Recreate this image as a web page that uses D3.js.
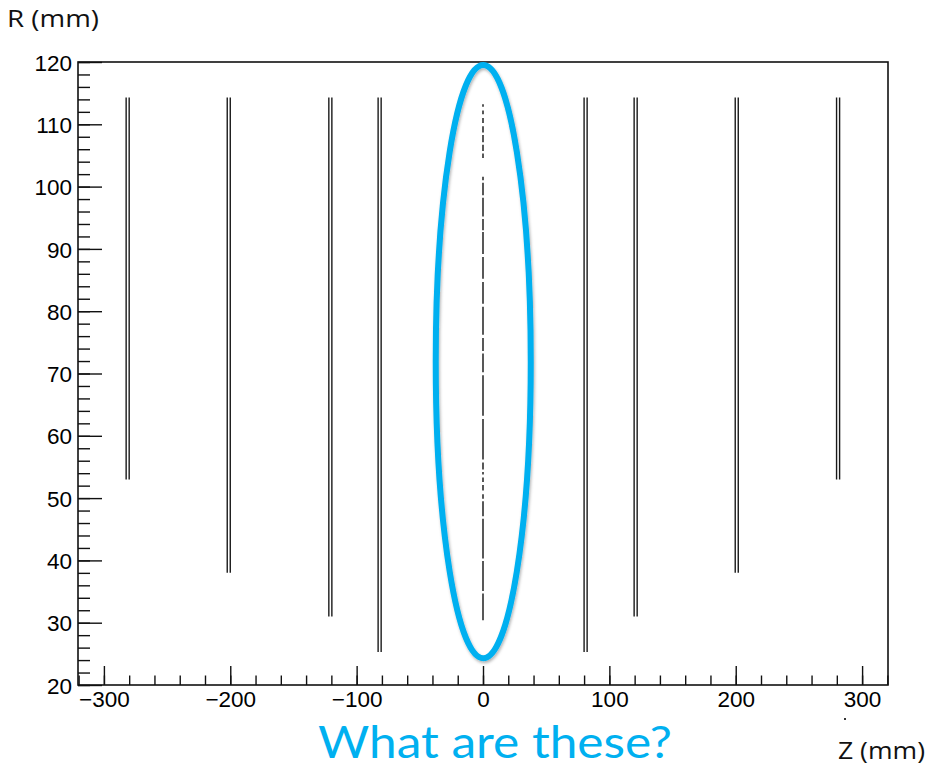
<!DOCTYPE html>
<html>
<head>
<meta charset="utf-8">
<script src="https://cdn.jsdelivr.net/npm/d3@7"></script>
<style>
  body { margin: 0; background: #fff; }
  svg { display: block; }
</style>
</head>
<body>
<svg id="chart"></svg>
<script>
// layer positions (Z, mm) - each layer drawn as a close pair of lines
const layerZ = [
    [-282.4, -280.0], [-202.4, -200.0], [-122.0, -119.6], [-83.0, -80.6],
    [80.0, 82.4], [119.6, 122.0], [199.6, 202.0], [279.8, 282.2]
];
const layerRmin = [53.0, 38.0, 31.0, 25.3, 25.3, 31.0, 38.0, 53.0];
const layerRmax = [114.3, 114.3, 114.3, 114.3, 114.3, 114.3, 114.3, 114.3];

// broken hits along Z = 0, [Rlow, Rhigh]
const centerSegs = [
    [112.8, 113.2], [111.6, 112.2], [110.2, 111.0], [108.7, 109.7], [107.1, 108.3],
    [105.7, 106.7], [104.6, 105.3], [101.0, 101.6], [98.6, 100.6], [95.2, 98.2],
    [93.0, 94.8], [89.2, 92.7], [85.2, 88.7], [81.2, 84.7], [76.2, 80.7],
    [73.6, 75.7], [70.2, 73.2], [63.2, 69.7], [56.2, 62.7], [54.6, 55.7],
    [53.8, 54.2], [52.6, 53.3], [51.2, 52.1], [49.9, 50.6], [47.1, 49.5],
    [40.3, 46.7], [35.1, 39.9], [30.4, 34.7]
];

// annotation ellipse in data units
const ringCenter = [0.2, 71.9];
const ringRadii = [37.6, 47.6];

const xMajor = [-300, -200, -100, 0, 100, 200, 300];
const yMajor = [20, 30, 40, 50, 60, 70, 80, 90, 100, 110, 120];

const width = 932;
const height = 768;
const margin = {top: 62, right: 44, bottom: 83, left: 78};

const svg = d3.select("#chart")
    .attr("width", width)
    .attr("height", height)
    .attr("viewBox", [0, 0, width, height]);

const x = d3.scaleLinear()
    .domain([-320.5, 320.5])
    .range([margin.left, width - margin.right]);

const y = d3.scaleLinear()
    .domain([20, 120])
    .range([height - margin.bottom, margin.top]);

const tickFont = "'Liberation Sans', Arial, sans-serif";

// minor ticks
svg.append("g")
    .attr("transform", `translate(0,${y(20)})`)
    .call(d3.axisBottom(x).tickValues(d3.range(-320, 321, 20)).tickSize(-9.5).tickSizeOuter(0).tickFormat(""))
    .call(g => g.select(".domain").remove());

svg.append("g")
    .attr("transform", `translate(${x.range()[0]},0)`)
    .call(d3.axisLeft(y).tickValues(d3.range(20, 121, 2)).tickSize(-12).tickSizeOuter(0).tickFormat(""))
    .call(g => g.select(".domain").remove());

// major ticks + labels
svg.append("g")
    .attr("transform", `translate(0,${y(20)})`)
    .call(d3.axisBottom(x).tickValues(xMajor).tickSize(-19).tickSizeOuter(0).tickPadding(6)
        .tickFormat(d => d < 0 ? "\u2212" + Math.abs(d) : d))
    .call(g => g.select(".domain").remove())
    .call(g => g.selectAll("text")
        .attr("dy", "0.72em")
        .style("font-family", tickFont)
        .style("font-size", "22.5px")
        .style("fill", "#000"));

svg.append("g")
    .attr("transform", `translate(${x.range()[0]},0)`)
    .call(d3.axisLeft(y).tickValues(yMajor).tickSize(-24).tickSizeOuter(0).tickPadding(6))
    .call(g => g.select(".domain").remove())
    .call(g => g.selectAll("text")
        .attr("dy", "0.36em")
        .style("font-family", tickFont)
        .style("font-size", "22.5px")
        .style("fill", "#000"));

svg.selectAll(".tick line").attr("stroke", "#111").attr("stroke-width", 1.4);

// frame
svg.append("rect")
    .attr("x", x.range()[0])
    .attr("y", y(120))
    .attr("width", x.range()[1] - x.range()[0])
    .attr("height", y(20) - y(120))
    .attr("fill", "none")
    .attr("stroke", "#111")
    .attr("stroke-width", 1.6);

// layer pairs
const layers = svg.append("g");
layerZ.forEach((pair, i) => {
    pair.forEach(z => {
        layers.append("line")
            .attr("x1", x(z)).attr("x2", x(z))
            .attr("y1", y(layerRmax[i])).attr("y2", y(layerRmin[i]))
            .attr("stroke", "#1a1a1a")
            .attr("stroke-width", 1.4);
    });
});

// hits along Z = 0
svg.append("g")
    .selectAll("line")
    .data(centerSegs)
    .join("line")
    .attr("x1", x(0)).attr("x2", x(0))
    .attr("y1", d => y(d[1])).attr("y2", d => y(d[0]))
    .attr("stroke", "#111")
    .attr("stroke-width", 1.4);

// stray dot below the axis
svg.append("rect")
    .attr("x", 844).attr("y", 718)
    .attr("width", 2).attr("height", 2)
    .attr("fill", "#333");

// axis titles
svg.append("text")
    .attr("x", 7).attr("y", 27)
    .attr("textLength", 92)
    .attr("lengthAdjust", "spacingAndGlyphs")
    .style("font-family", "'Open Sans', sans-serif")
    .style("font-size", "23px")
    .style("fill", "#111")
    .text("R (mm)");

svg.append("text")
    .attr("x", 838).attr("y", 759)
    .attr("textLength", 87)
    .attr("lengthAdjust", "spacingAndGlyphs")
    .style("font-family", "'Open Sans', sans-serif")
    .style("font-size", "23px")
    .style("fill", "#111")
    .text("Z (mm)");

// annotation
const defs = svg.append("defs");
defs.append("filter")
    .attr("id", "shadow")
    .attr("x", "-20%").attr("y", "-10%")
    .attr("width", "140%").attr("height", "120%")
    .append("feDropShadow")
    .attr("dx", 1).attr("dy", 2)
    .attr("stdDeviation", 1.5)
    .attr("flood-color", "#000")
    .attr("flood-opacity", 0.3);

svg.append("ellipse")
    .attr("cx", x(ringCenter[0]))
    .attr("cy", y(ringCenter[1]))
    .attr("rx", x(ringRadii[0]) - x(0))
    .attr("ry", y(0) - y(ringRadii[1]))
    .attr("fill", "none")
    .attr("stroke", "#00B0F0")
    .attr("stroke-width", 6)
    .attr("filter", "url(#shadow)");

svg.append("text")
    .attr("x", 318).attr("y", 758)
    .attr("textLength", 354)
    .attr("lengthAdjust", "spacingAndGlyphs")
    .style("font-family", "Lato, 'Open Sans', sans-serif")
    .style("font-size", "44px")
    .style("fill", "#00B0F0")
    .text("What are these?");
</script>
</body>
</html>
